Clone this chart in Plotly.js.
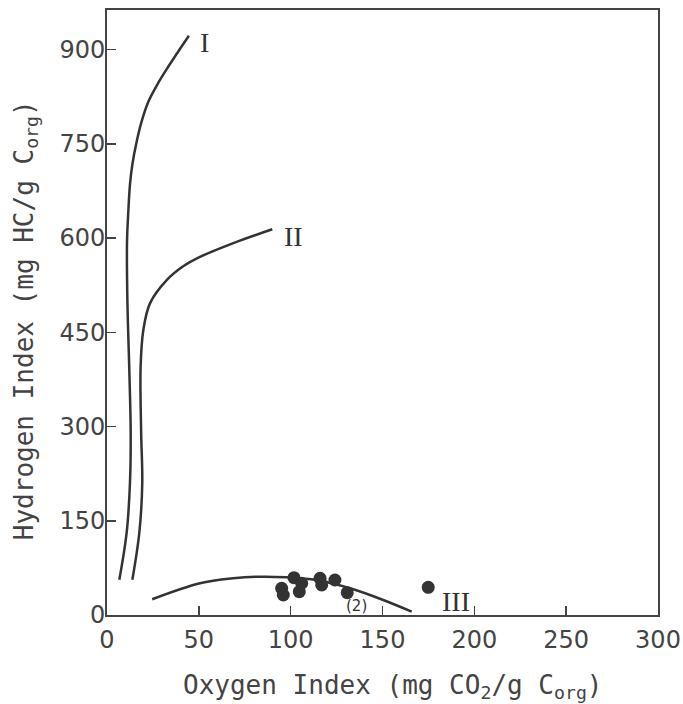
<!DOCTYPE html>
<html>
<head>
<meta charset="utf-8">
<script src="https://cdn.plot.ly/plotly-3.0.1.min.js"></script>
<style>html,body{margin:0;padding:0;background:#fff;}#chart{width:683px;height:704px;}</style>
</head>
<body>
<div id="chart"></div>
<script>
// Evolution path of kerogen type I
const typeI_x = [6.7, 10.7, 12.5, 12.9, 12.1, 11.1, 10.9, 11.6, 12.5, 13.8, 16.2, 18.9, 22.5, 27.9, 33.4, 38.8, 44.6];
const typeI_y = [56, 131, 210, 290, 395, 500, 594, 642, 685, 717, 754, 786, 817, 847, 873, 897, 922];
// Type II
const typeII_x = [13.8, 17.6, 19.2, 18.6, 18.3, 19.8, 23.4, 32.5, 41.5, 50.6, 68.8, 90.0];
const typeII_y = [56, 131, 210, 290, 395, 454, 496, 533, 555, 570, 592, 614];
// Type III
const typeIII_x = [24.6, 50.6, 68.8, 83.3, 97.8, 114.1, 132.3, 150.4, 165.9];
const typeIII_y = [25, 50.5, 58.4, 61, 60, 55.7, 42.5, 23.9, 5.3];
// Samples
const sample_x = [95.1, 96.0, 101.8, 106.0, 104.7, 116.0, 116.9, 124.1, 130.8, 174.9];
const sample_y = [42.5, 31.8, 59.4, 50.5, 37.1, 58.4, 47.8, 55.7, 35.5, 44];
// Labels
const curveLabels = ["I", "II", "III"];
const curveLabel_x = [53.3, 101.3, 190];
const curveLabel_y = [912, 603, 22];
const xTicks = [0, 50, 100, 150, 200, 250, 300];
const yTicks = [0, 150, 300, 450, 600, 750, 900];

const ink = '#333';
const lineStyle = {color: ink, width: 2.5, shape: 'spline', smoothing: 1};
const traces = [
  {x: typeI_x, y: typeI_y, mode: 'lines', line: lineStyle, hoverinfo: 'skip'},
  {x: typeII_x, y: typeII_y, mode: 'lines', line: lineStyle, hoverinfo: 'skip'},
  {x: typeIII_x, y: typeIII_y, mode: 'lines', line: lineStyle, hoverinfo: 'skip'},
  {x: sample_x, y: sample_y, mode: 'markers', marker: {color: ink, size: 13}, hoverinfo: 'skip'}
];

const titleFont = {family: 'DejaVu Sans Mono, monospace', size: 26, color: '#444'};
const annotations = curveLabels.map((t, i) => ({
  x: curveLabel_x[i], y: curveLabel_y[i], xref: 'x', yref: 'y', text: t, showarrow: false,
  font: {family: 'Liberation Serif, DejaVu Serif, serif', size: 28, color: ink}
}));
annotations.push({x: 136.1, y: 14, xref: 'x', yref: 'y', text: '(2)', showarrow: false,
  font: {family: 'DejaVu Sans, sans-serif', size: 15, color: ink}});
annotations.push({x: 0.519, y: -0.118, xref: 'paper', yref: 'paper', xanchor: 'center', yanchor: 'middle',
  text: 'Oxygen Index (mg CO<sub>2</sub>/g C<sub>org</sub>)', showarrow: false, font: titleFont});
annotations.push({x: -0.148, y: 0.488, xref: 'paper', yref: 'paper', xanchor: 'center', yanchor: 'middle',
  textangle: -90, text: 'Hydrogen Index (mg HC/g C<sub>org</sub>)', showarrow: false, font: titleFont});

const axisBase = {
  showgrid: false, zeroline: false, showline: true, mirror: true, linecolor: '#444', linewidth: 2,
  ticks: 'inside', ticklen: 9, tickwidth: 1.5, tickcolor: '#444',
  tickfont: {family: 'DejaVu Sans, sans-serif', size: 24, color: '#444'}
};

const layout = {
  width: 683, height: 704,
  margin: {l: 107, r: 25, t: 10, b: 89},
  paper_bgcolor: '#fff', plot_bgcolor: '#fff',
  showlegend: false,
  xaxis: Object.assign({}, axisBase, {range: [0, 300], tickvals: xTicks, ticklabelstandoff: 2}),
  yaxis: Object.assign({}, axisBase, {range: [0, 963], tickvals: yTicks, ticklabelstandoff: -5}),
  annotations: annotations
};

Plotly.newPlot('chart', traces, layout, {staticPlot: true});
</script>
</body>
</html>
